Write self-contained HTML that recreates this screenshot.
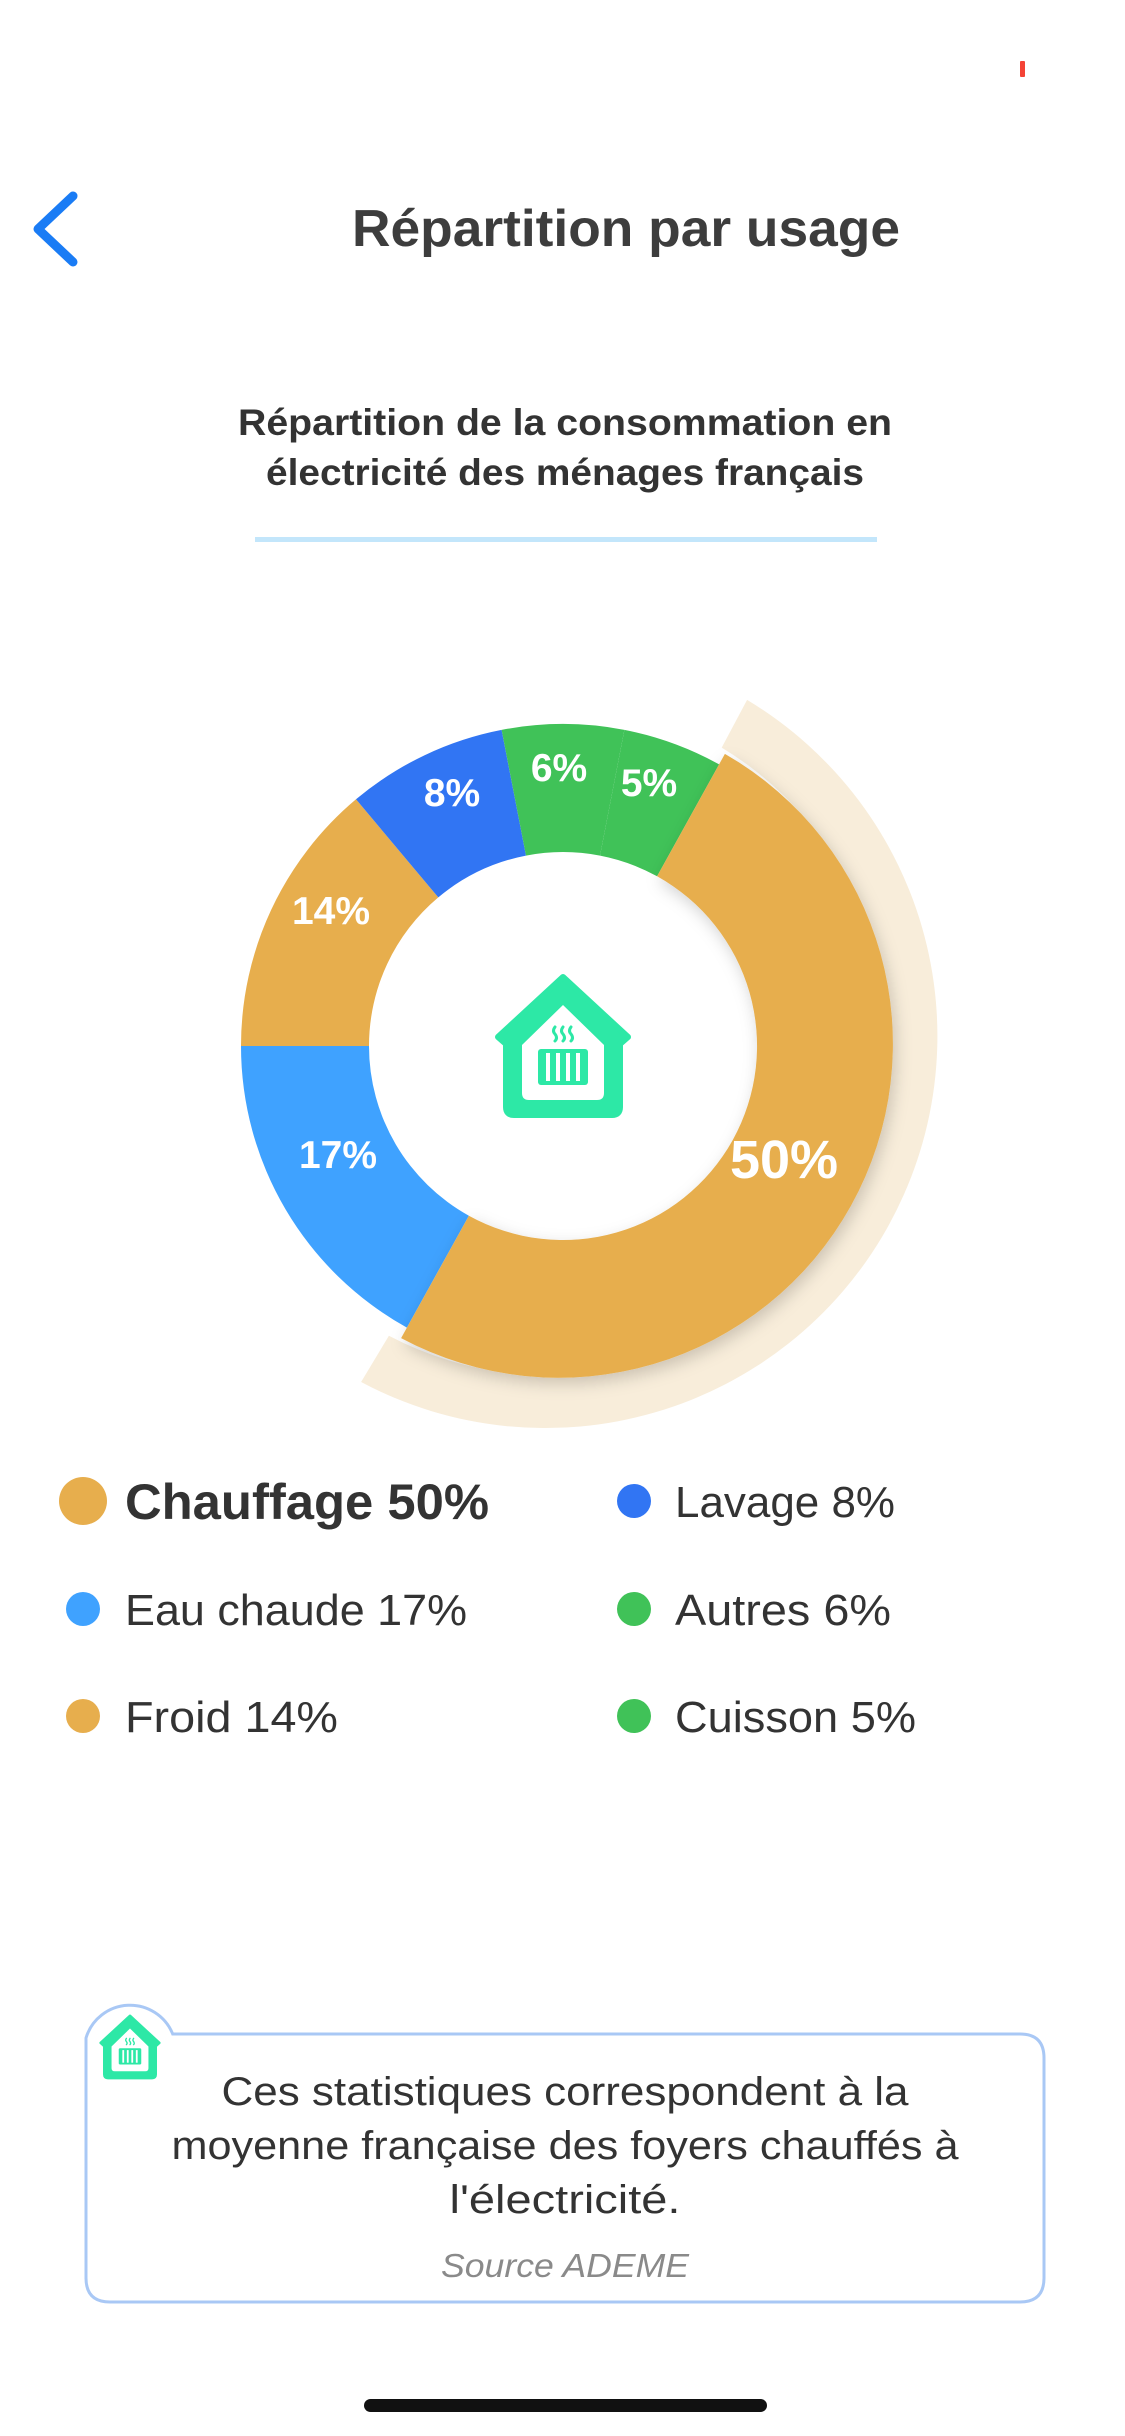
<!DOCTYPE html>
<html><head><meta charset="utf-8"><style>
html,body{margin:0;padding:0;background:#fff;width:1125px;height:2436px;overflow:hidden}
svg{display:block}
text{font-family:"Liberation Sans",sans-serif}
</style></head><body>
<svg width="1125" height="2436" viewBox="0 0 1125 2436" xmlns="http://www.w3.org/2000/svg">
<defs>
<filter id="sh" x="-20%" y="-20%" width="140%" height="140%"><feDropShadow dx="3" dy="6" stdDeviation="8" flood-color="#000" flood-opacity="0.18"/></filter>
<g id="house">
<path d="M565,982 L500,1042 L508,1049 L508,1112 Q508,1120 516,1120 L614,1120 Q622,1120 622,1112 L622,1049 L630,1042 Z" fill="#2de8a6" stroke="#2de8a6" stroke-width="6" stroke-linejoin="round"/>
<path d="M565,1010 L524,1050 L524,1098 Q524,1105 531,1105 L599,1105 Q606,1105 606,1098 L606,1050 Z" fill="#fff"/>
<rect x="540" y="1054" width="50" height="36" rx="3" fill="#2de8a6"/>
<rect x="548" y="1058" width="4" height="28" fill="#fff"/><rect x="558" y="1058" width="4" height="28" fill="#fff"/><rect x="568" y="1058" width="4" height="28" fill="#fff"/><rect x="578" y="1058" width="4" height="28" fill="#fff"/>
<path d="M557,1032 q-3,4 0,7 q3,4 0,7 M565,1032 q-3,4 0,7 q3,4 0,7 M573,1032 q-3,4 0,7 q3,4 0,7" fill="none" stroke="#2de8a6" stroke-width="3" stroke-linecap="round"/>
</g>
</defs>
<rect x="1020" y="61" width="5" height="16" fill="#f44336" rx="1"/>
<path d="M73,196 L38,229 L73,262" fill="none" stroke="#1a7cf5" stroke-width="9" stroke-linecap="round" stroke-linejoin="round"/>
<text x="626" y="246" text-anchor="middle" font-size="52" font-weight="bold" fill="#3d3d3d" textLength="548" lengthAdjust="spacingAndGlyphs">Répartition par usage</text>
<text x="565" y="435" text-anchor="middle" font-size="37" font-weight="bold" fill="#333" textLength="654" lengthAdjust="spacingAndGlyphs">Répartition de la consommation en</text>
<text x="565" y="485" text-anchor="middle" font-size="37" font-weight="bold" fill="#333" textLength="598" lengthAdjust="spacingAndGlyphs">électricité des ménages français</text>
<rect x="255" y="537" width="622" height="5" fill="#c3e6fb"/>
<path d="M747.1,699.9 A392,392 0 0 1 361.1,1382 L388.9,1335.7 A338,338 0 0 0 721.7,747.6 Z" fill="#f8edda"/>
<path d="M406.9,1327.6 A322,322 0 0 1 241,1046 L369,1046 A194,194 0 0 0 468.9,1215.7 Z" fill="#3fa2ff"/>
<path d="M241,1046 A322,322 0 0 1 356,799.3 L438.3,897.4 A194,194 0 0 0 369,1046 Z" fill="#e7ae4d"/>
<path d="M356,799.3 A322,322 0 0 1 501.6,729.9 L526,855.6 A194,194 0 0 0 438.3,897.4 Z" fill="#3175f3"/>
<path d="M501.6,729.9 A322,322 0 0 1 624.4,729.9 L600,855.6 A194,194 0 0 0 526,855.6 Z" fill="#40c258"/>
<path d="M624.4,729.9 A322,322 0 0 1 719.1,764.4 L657.1,876.3 A194,194 0 0 0 600,855.6 Z" fill="#40c258"/>
<path d="M724.9,753.9 A334,334 0 0 1 401.1,1338.1 L468.9,1215.7 A194,194 0 0 0 657.1,876.3 Z" fill="#e7ae4d" filter="url(#sh)"/>
<g fill="#fff" font-weight="bold" text-anchor="middle">
<text x="784" y="1178" font-size="54">50%</text>
<text x="338" y="1168" font-size="39">17%</text>
<text x="331" y="924" font-size="39">14%</text>
<text x="452" y="806" font-size="39">8%</text>
<text x="559" y="781" font-size="39">6%</text>
<text x="649" y="796" font-size="39">5%</text>
</g>
<g transform="translate(-2,-5)"><use href="#house"/></g>
<circle cx="83" cy="1501" r="24" fill="#e7ae4d"/>
<text x="125" y="1519" font-size="50" font-weight="bold" fill="#333" textLength="364" lengthAdjust="spacingAndGlyphs">Chauffage 50%</text>
<circle cx="634" cy="1501" r="17" fill="#3175f3"/>
<text x="675" y="1517" font-size="44" fill="#333" textLength="220" lengthAdjust="spacingAndGlyphs">Lavage 8%</text>
<circle cx="83" cy="1609" r="17" fill="#3fa2ff"/>
<text x="125" y="1625" font-size="44" fill="#333" textLength="342" lengthAdjust="spacingAndGlyphs">Eau chaude 17%</text>
<circle cx="634" cy="1609" r="17" fill="#40c258"/>
<text x="675" y="1625" font-size="44" fill="#333" textLength="216" lengthAdjust="spacingAndGlyphs">Autres 6%</text>
<circle cx="83" cy="1716" r="17" fill="#e7ae4d"/>
<text x="125" y="1732" font-size="44" fill="#333" textLength="213" lengthAdjust="spacingAndGlyphs">Froid 14%</text>
<circle cx="634" cy="1716" r="17" fill="#40c258"/>
<text x="675" y="1732" font-size="44" fill="#333" textLength="241" lengthAdjust="spacingAndGlyphs">Cuisson 5%</text>
<g transform="translate(0,-11)">
<path d="M86,2290 L86,2049 A46,46 0 0 1 172.7,2045 L1020,2045 Q1044,2045 1044,2069 L1044,2289 Q1044,2313 1020,2313 L110,2313 Q86,2313 86,2289 Z" fill="#fff" stroke="#a9c8f5" stroke-width="3"/>
<g transform="translate(-124.25,1585) scale(0.45)"><use href="#house"/></g>
<g text-anchor="middle" font-size="40" fill="#333">
<text x="565" y="2116" textLength="687" lengthAdjust="spacingAndGlyphs">Ces statistiques correspondent à la</text>
<text x="565" y="2170" textLength="787" lengthAdjust="spacingAndGlyphs">moyenne française des foyers chauffés à</text>
<text x="565" y="2224" textLength="231" lengthAdjust="spacingAndGlyphs">l'électricité.</text>
</g>
<text x="565" y="2288" text-anchor="middle" font-size="33" font-style="italic" fill="#8a8a8a" textLength="248" lengthAdjust="spacingAndGlyphs">Source ADEME</text>
</g>
<rect x="364" y="2399" width="403" height="13" rx="6.5" fill="#111"/>
</svg>
</body></html>
